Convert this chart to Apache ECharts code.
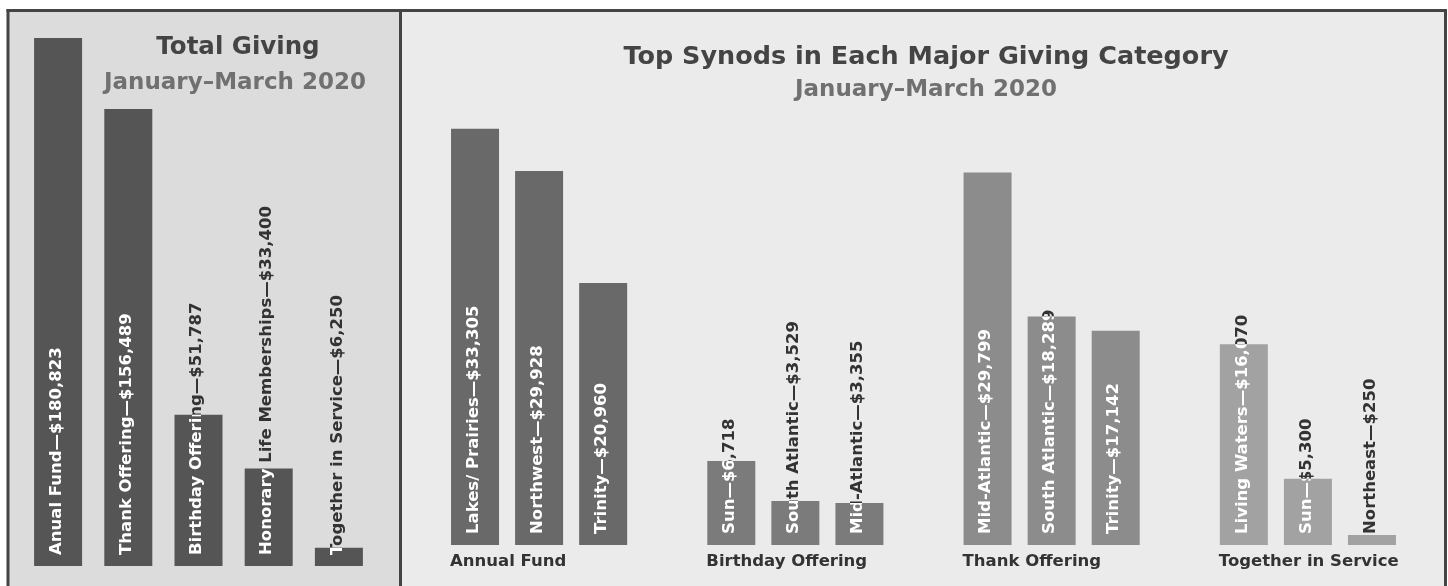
<!DOCTYPE html>
<html><head><meta charset="utf-8">
<script src="https://cdn.jsdelivr.net/npm/echarts@6/dist/echarts.min.js"></script>
<style>html,body{margin:0;padding:0;background:#fff}#c{width:1448px;height:586px}</style>
</head><body><div id="c"></div><script>
// ---------- data ----------
const totalTitle = 'Total Giving';
const periodText = 'January–March 2020';
const topTitle = 'Top Synods in Each Major Giving Category';
const totalCategories = ['Anual Fund', 'Thank Offering', 'Birthday Offering', 'Honorary Life Memberships', 'Together in Service'];
const totalValues = [180823, 156489, 51787, 33400, 6250];
const groupNames = ['Annual Fund', 'Birthday Offering', 'Thank Offering', 'Together in Service'];
const annualFundSynods = ['Lakes/ Prairies', 'Northwest', 'Trinity'];
const annualFundValues = [33305, 29928, 20960];
const birthdaySynods = ['Sun', 'South Atlantic', 'Mid-Atlantic'];
const birthdayValues = [6718, 3529, 3355];
const thankSynods = ['Mid-Atlantic', 'South Atlantic', 'Trinity'];
const thankValues = [29799, 18289, 17142];
const togetherSynods = ['Living Waters', 'Sun', 'Northeast'];
const togetherValues = [16070, 5300, 250];

// ---------- styles ----------
const groupColors = ['#696969', '#7b7b7b', '#8c8c8c', '#a2a2a2'];
const totalColor = '#555555';
const BAR_W = 48;
const FONT = '"DejaVu Sans", sans-serif';
const LABEL_SIZE = 16.5;
const DARK = '#333333';

const money = v => '$' + v.toLocaleString('en-US');

// build right-hand slots (groups separated by one empty slot)
const groupSynods = [annualFundSynods, birthdaySynods, thankSynods, togetherSynods];
const groupValues = [annualFundValues, birthdayValues, thankValues, togetherValues];
const slotNames = [], barData = [], rightLabelData = [], rightLabels = [], rightGroupLabels = [];
groupSynods.forEach((syn, g) => {
  if (g > 0) { slotNames.push('gap' + g); barData.push('-'); }
  syn.forEach((s, i) => {
    const idx = slotNames.length;
    slotNames.push(g + ':' + s);
    const v = groupValues[g][i];
    barData.push({ value: v, itemStyle: { color: groupColors[g] } });
    rightLabelData.push([idx, v]);
    rightLabels.push(s + '—' + money(v));
    rightGroupLabels.push(i === 0 ? groupNames[g] : null);
  });
});
const leftLabelData = totalValues.map((v, i) => [i, v]);
const leftLabels = totalCategories.map((c, i) => c + '—' + money(totalValues[i]));

function makeRender(labels, groupLabels, minH) {
  return function (params, api) {
    const i = params.dataIndex;
    const idx = api.value(0), v = api.value(1);
    const base = api.coord([idx, 0]);
    const top = api.coord([idx, v]);
    let topY = Math.min(top[1], base[1] - minH);
    const x0 = base[0] - BAR_W / 2;
    const txt = (fill) => ({
      type: 'text', x: base[0] - 1.5, y: base[1] - 11, rotation: Math.PI / 2,
      style: { text: labels[i], fill: fill, fontSize: LABEL_SIZE, fontFamily: FONT, fontWeight: 'bold', align: 'left', verticalAlign: 'middle' }
    });
    const children = [
      { type: 'group', clipPath: { type: 'rect', shape: { x: x0 - 30, y: 0, width: BAR_W + 60, height: topY } }, children: [txt(DARK)] },
      { type: 'group', clipPath: { type: 'rect', shape: { x: x0, y: topY, width: BAR_W, height: base[1] - topY } }, children: [txt('#ffffff')] }
    ];
    if (groupLabels && groupLabels[i]) {
      children.push({
        type: 'text', x: x0 - 1, y: base[1] + 17,
        style: { text: groupLabels[i], fill: DARK, fontSize: LABEL_SIZE, fontFamily: FONT, fontWeight: 'bold', align: 'left', verticalAlign: 'middle' }
      });
    }
    return { type: 'group', children };
  };
}

const chart = echarts.init(document.getElementById('c'), null, { renderer: 'canvas' });
chart.setOption({
  backgroundColor: '#ffffff',
  animation: false,
  graphic: [
    { type: 'rect', z: -10, silent: true, shape: { x: 8, y: 10, width: 393, height: 580 }, style: { fill: '#dcdcdc' } },
    { type: 'rect', z: -10, silent: true, shape: { x: 401, y: 10, width: 1044, height: 580 }, style: { fill: '#ebebeb' } },
    { type: 'line', z: -5, silent: true, shape: { x1: 6.5, y1: 10.5, x2: 1447, y2: 10.5 }, style: { stroke: '#444444', lineWidth: 3 } },
    { type: 'line', z: -5, silent: true, shape: { x1: 8, y1: 9, x2: 8, y2: 590 }, style: { stroke: '#444444', lineWidth: 3 } },
    { type: 'line', z: -5, silent: true, shape: { x1: 400.5, y1: 9, x2: 400.5, y2: 590 }, style: { stroke: '#444444', lineWidth: 3 } },
    { type: 'line', z: -5, silent: true, shape: { x1: 1445.5, y1: 9, x2: 1445.5, y2: 590 }, style: { stroke: '#444444', lineWidth: 3 } },
    { type: 'text', z: 5, x: 238, y: 48, style: { text: totalTitle, fill: '#444444', fontSize: 24.5, fontWeight: 'bold', fontFamily: FONT, align: 'center', verticalAlign: 'middle' } },
    { type: 'text', z: 5, x: 235, y: 83, style: { text: periodText, fill: '#707070', fontSize: 23, fontWeight: 'bold', fontFamily: FONT, align: 'center', verticalAlign: 'middle' } },
    { type: 'text', z: 5, x: 926, y: 57, style: { text: topTitle, fill: '#444444', fontSize: 25.5, fontWeight: 'bold', fontFamily: FONT, align: 'center', verticalAlign: 'middle' } },
    { type: 'text', z: 5, x: 926, y: 90, style: { text: periodText, fill: '#707070', fontSize: 23, fontWeight: 'bold', fontFamily: FONT, align: 'center', verticalAlign: 'middle' } }
  ],
  grid: [
    { left: 23, top: 38, width: 351, height: 528 },
    { left: 443, top: 120, width: 961, height: 425 }
  ],
  xAxis: [
    { type: 'category', gridIndex: 0, data: totalCategories, show: false },
    { type: 'category', gridIndex: 1, data: slotNames, show: false }
  ],
  yAxis: [
    { type: 'value', gridIndex: 0, min: 0, max: 180823, show: false },
    { type: 'value', gridIndex: 1, min: 0, max: 34000, show: false }
  ],
  series: [
    { type: 'bar', xAxisIndex: 0, yAxisIndex: 0, barWidth: BAR_W, data: totalValues, itemStyle: { color: totalColor }, z: 2, silent: true },
    { type: 'bar', xAxisIndex: 1, yAxisIndex: 1, barWidth: BAR_W, barMinHeight: 10, data: barData, z: 2, silent: true },
    { type: 'custom', xAxisIndex: 0, yAxisIndex: 0, data: leftLabelData, encode: { x: 0, y: 1 }, renderItem: makeRender(leftLabels, null, 0), z: 3, silent: true, clip: false },
    { type: 'custom', xAxisIndex: 1, yAxisIndex: 1, data: rightLabelData, encode: { x: 0, y: 1 }, renderItem: makeRender(rightLabels, rightGroupLabels, 10), z: 3, silent: true, clip: false }
  ]
});
</script></body></html>
